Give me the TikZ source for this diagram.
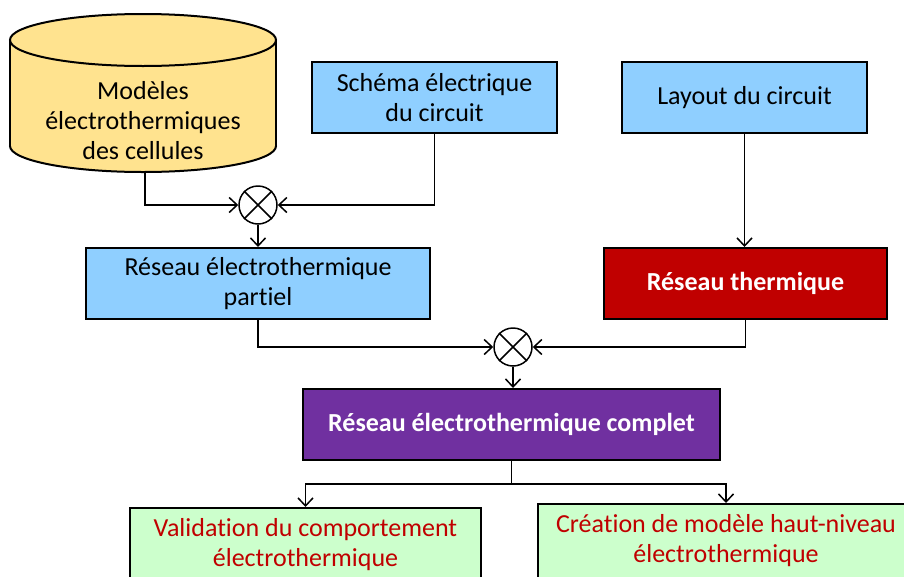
\documentclass[tikz,border=0pt]{standalone}
\usepackage{fontspec}
\setmainfont{Carlito}[Ligatures=NoCommon]
\usetikzlibrary{arrows.meta}
\definecolor{dbfill}{HTML}{FFE38F}
\definecolor{inblue}{HTML}{8FCFFF}
\definecolor{thred}{HTML}{C00000}
\definecolor{fullpurple}{HTML}{7030A0}
\definecolor{outgreen}{HTML}{CCFFCC}

\begin{document}
\begin{tikzpicture}[
    x=1pt,y=-1pt,
    font=\fontsize{26}{30}\selectfont,
    stepbox/.style={draw=black,line width=2pt,align=center,
        minimum height=71pt,inner sep=2pt},
    inbox/.style={stepbox,fill=inblue},
    outbox/.style={stepbox,fill=outgreen,text=thred,anchor=north,
        inner ysep=10pt,text depth=20pt},
    mixer/.style={circle,draw=black,line width=1.5pt,minimum size=38pt,
        inner sep=0pt},
    conn/.style={draw=black,line width=1.5pt,
        -{Straight Barb[length=8pt,width=15pt]}},
  ]
  \clip (0,0) rectangle (904,576);

  % ============================================================= DATABASE
  \filldraw[fill=dbfill,line width=2pt] (143,146) ellipse [x radius=133,y radius=26];
  \fill[dbfill] (10,40) rectangle (276,146);
  \draw[line width=2pt] (10,40) -- (10,146) (276,40) -- (276,146);
  \filldraw[fill=dbfill,line width=2pt] (143,40) ellipse [x radius=133,y radius=26];
  \node[align=center] (db) at (143,121)
    {Modèles\\électrothermiques\\des cellules};
  \coordinate (dbbot) at (145,172);

  % ============================================================= BOXES
  \node[inbox,minimum width=245pt] (schema) at (434.5,97.5)
    {Schéma électrique\\du circuit};
  \node[inbox,minimum width=245pt] (layout) at (744.5,97.5)
    {Layout du circuit};
  \node[inbox,minimum width=344pt] (partiel) at (258,283.5)
    {Réseau électrothermique\\partiel};
  \node[stepbox,fill=thred,text=white,font=\fontsize{26}{30}\selectfont\bfseries,
        minimum width=283pt] (thermique) at (745.5,283.5)
    {Réseau thermique};
  \node[stepbox,fill=fullpurple,text=white,font=\fontsize{26}{30}\selectfont\bfseries,
        minimum width=417pt] (complet) at (511.5,424.5)
    {Réseau électrothermique complet};
  \node[outbox,minimum width=351pt] (valid) at (305.5,507)
    {Validation du comportement\\électrothermique};
  \node[outbox,minimum width=376pt] (creation) at (726,503)
    {Création de modèle haut-niveau\\électrothermique};

  % ============================================================= MIXERS
  \node[mixer] (mult1) at (258,205) {};
  \node[mixer] (mult2) at (513,347) {};
  \foreach \m in {mult1,mult2}{
    \draw[line width=1.5pt] (\m.north west) -- (\m.south east)
      (\m.north east) -- (\m.south west);
  }

  % ============================================================= CONNECTORS
  \draw[conn] (dbbot) |- (mult1);
  \draw[conn] (schema.south) |- (mult1);
  \draw[conn] (mult1) -- (partiel);
  \draw[conn] (layout) -- (layout |- thermique.north);
  \draw[conn] (partiel.south) |- (mult2);
  \draw[conn] (thermique.south) |- (mult2);
  \draw[conn] (mult2) -- (mult2 |- complet.north);
  \draw[conn] (complet.south) -- ++(0,23) -| (valid.north);
  \draw[conn] (complet.south) -- ++(0,23) -| (creation.north);

\end{tikzpicture}
\end{document}
